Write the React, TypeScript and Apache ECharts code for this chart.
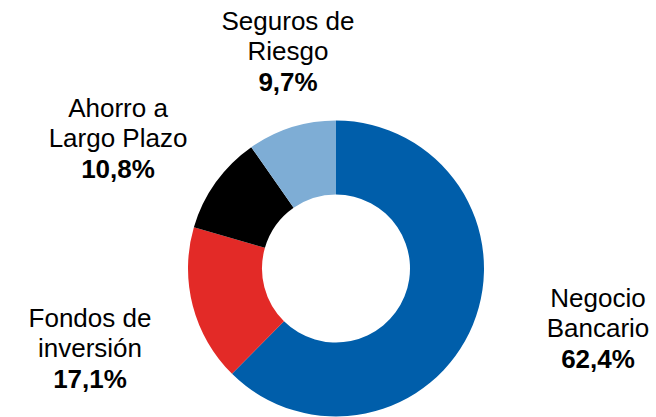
import React, { useEffect, useRef } from "react";
import * as echarts from "echarts";

const categories = ["Negocio\nBancario", "Fondos de\ninversión", "Ahorro a\nLargo Plazo", "Seguros de\nRiesgo"];
const values = [62.4, 17.1, 10.8, 9.7];
const valueLabels = ["62,4%", "17,1%", "10,8%", "9,7%"];
const colors = ["#005EAA", "#E32A27", "#000000", "#7EADD5"];
const labelPositions: [number, number][] = [
  [598, 283],
  [90, 303],
  [118, 93],
  [288, 6],
];

export default function App() {
  const ref = useRef<HTMLDivElement>(null);
  useEffect(() => {
    document.body.style.margin = "0";
    const chart = echarts.init(ref.current!, null, { renderer: "svg" });
    const font = "'Liberation Sans', Arial, sans-serif";
    chart.setOption({
      animation: false,
      series: [
        {
          type: "pie",
          center: [336, 268.5],
          radius: [74, 148],
          startAngle: 90,
          clockwise: true,
          avoidLabelOverlap: false,
          itemStyle: { borderWidth: 0 },
          emphasis: { disabled: true },
          labelLine: { show: false },
          label: {
            show: true,
            position: "outside",
            formatter: (p: any) => {
              const lines = String(p.name).split("\n").map((l: string) => `{a|${l}}`);
              return lines.join("\n") + `\n{b|${valueLabels[p.dataIndex]}}`;
            },
            rich: {
              a: { fontFamily: font, fontSize: 26, lineHeight: 30, color: "#000", align: "center" },
              b: { fontFamily: font, fontSize: 26, lineHeight: 31, fontWeight: "bold", color: "#000", align: "center" },
            },
          },
          labelLayout: (params: any) => ({
            x: labelPositions[params.dataIndex][0],
            y: labelPositions[params.dataIndex][1],
            align: "center",
            verticalAlign: "top",
            hideOverlap: false,
          }),
          data: categories.map((c, i) => ({
            name: c,
            value: values[i],
            itemStyle: { color: colors[i] },
          })),
        },
      ],
    });
    return () => chart.dispose();
  }, []);
  return <div ref={ref} style={{ width: 656, height: 417 }} />;
}
